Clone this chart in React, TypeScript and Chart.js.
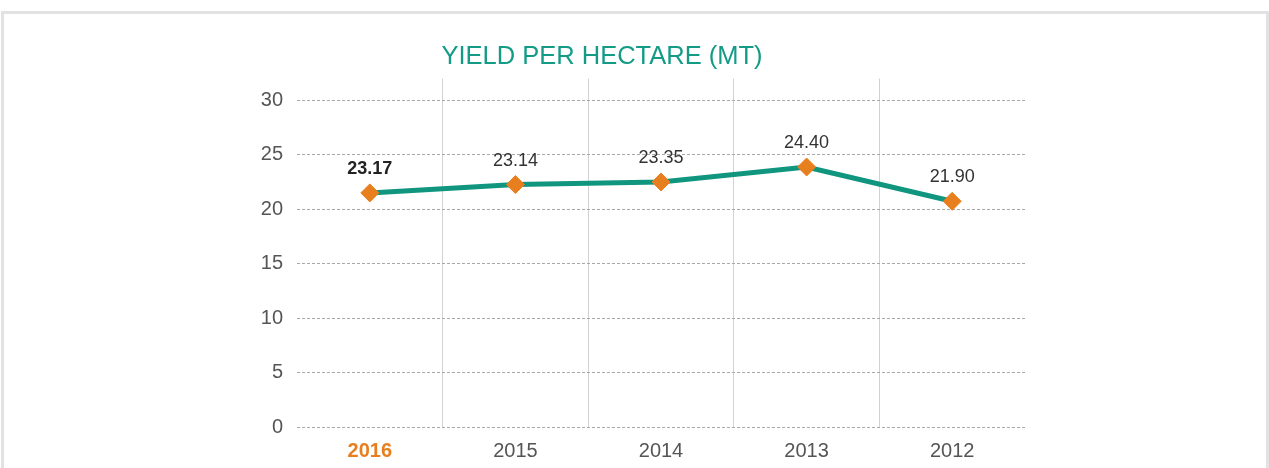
import React, { useEffect, useRef } from "react";
import { Chart, registerables } from "chart.js";

Chart.register(...registerables);

const categories = ["2016", "2015", "2014", "2013", "2012"];
const yieldValues = [21.5, 22.27, 22.5, 23.88, 20.73];
const valueLabels = ["23.17", "23.14", "23.35", "24.40", "21.90"];
const yTicks = [0, 5, 10, 15, 20, 25, 30];
const titleText = "YIELD PER HECTARE (MT)";

const TEAL = "#10957f";
const ORANGE = "#e87f1e";
const FONT = "'Liberation Sans', Arial, Helvetica, sans-serif";

const labelPlugin = {
  id: "valueLabels",
  afterDatasetsDraw(chart: any) {
    const meta = chart.getDatasetMeta(0);
    const ctx = chart.ctx;
    ctx.save();
    ctx.textAlign = "center";
    ctx.textBaseline = "middle";
    meta.data.forEach((pt: any, i: number) => {
      const bold = i === 0;
      ctx.font = `${bold ? "bold " : ""}18px ${FONT}`;
      ctx.fillStyle = bold ? "#222222" : "#333333";
      ctx.fillText(valueLabels[i], pt.x, pt.y - 24);
    });
    ctx.restore();
  },
};

export default function App() {
  const ref = useRef<HTMLCanvasElement | null>(null);

  useEffect(() => {
    if (!ref.current) return;
    const chart = new Chart(ref.current, {
      type: "line",
      data: {
        labels: categories,
        datasets: [
          {
            data: yieldValues,
            borderColor: TEAL,
            borderWidth: 5,
            pointStyle: "rectRot",
            pointRadius: 9,
            pointBackgroundColor: ORANGE,
            pointBorderColor: ORANGE,
            pointBorderWidth: 1,
            tension: 0,
          },
        ],
      },
      options: {
        responsive: false,
        animation: false,
        layout: { padding: { left: 175, right: 241, top: 0, bottom: 0 } },
        plugins: {
          legend: { display: false },
          tooltip: { enabled: false },
          title: {
            display: true,
            text: titleText,
            color: "#139b86",
            font: { family: FONT, size: 25.5, weight: "normal" as any, lineHeight: 1.2 },
            padding: { top: 28, bottom: 6 },
          },
        },
        scales: {
          x: {
            offset: true,
            border: { display: false },
            grid: {
              offset: true,
              drawTicks: false,
              lineWidth: 1,
              color: (c: any) =>
                c.index === undefined || c.index === 0 ? "rgba(0,0,0,0)" : "#d2d2d2",
            },
            ticks: {
              padding: 12,
              font: (c: any) => ({
                family: FONT,
                size: 20,
                weight: c.index === 0 ? "bold" : "normal",
              }) as any,
              color: (c: any) => (c.index === 0 ? ORANGE : "#555555"),
            },
            afterFit: (s: any) => {
              s.height = 41;
            },
          },
          y: {
            min: 0,
            max: 32,
            border: { display: false, dash: [3, 2] },
            grid: {
              drawTicks: false,
              color: "#a8a8a8",
              lineWidth: 1,
            },
            ticks: {
              stepSize: 5,
              includeBounds: false,
              padding: 14,
              color: "#555555",
              font: { family: FONT, size: 20 },
              callback: (v: any) => (yTicks.includes(Number(v)) ? String(v) : ""),
            },
            afterFit: (s: any) => {
              s.width = 118;
            },
          },
        },
      },
      plugins: [labelPlugin],
    });
    return () => chart.destroy();
  }, []);

  return (
    <div
      style={{
        position: "absolute",
        left: 1,
        top: 11,
        width: 1262,
        height: 454,
        borderTop: "3px solid #e2e2e2",
        borderLeft: "3px solid #e2e2e2",
        borderRight: "3px solid #e2e2e2",
        background: "#fff",
      }}
    >
      <canvas ref={ref} width={1262} height={454} style={{ display: "block" }} />
    </div>
  );
}
